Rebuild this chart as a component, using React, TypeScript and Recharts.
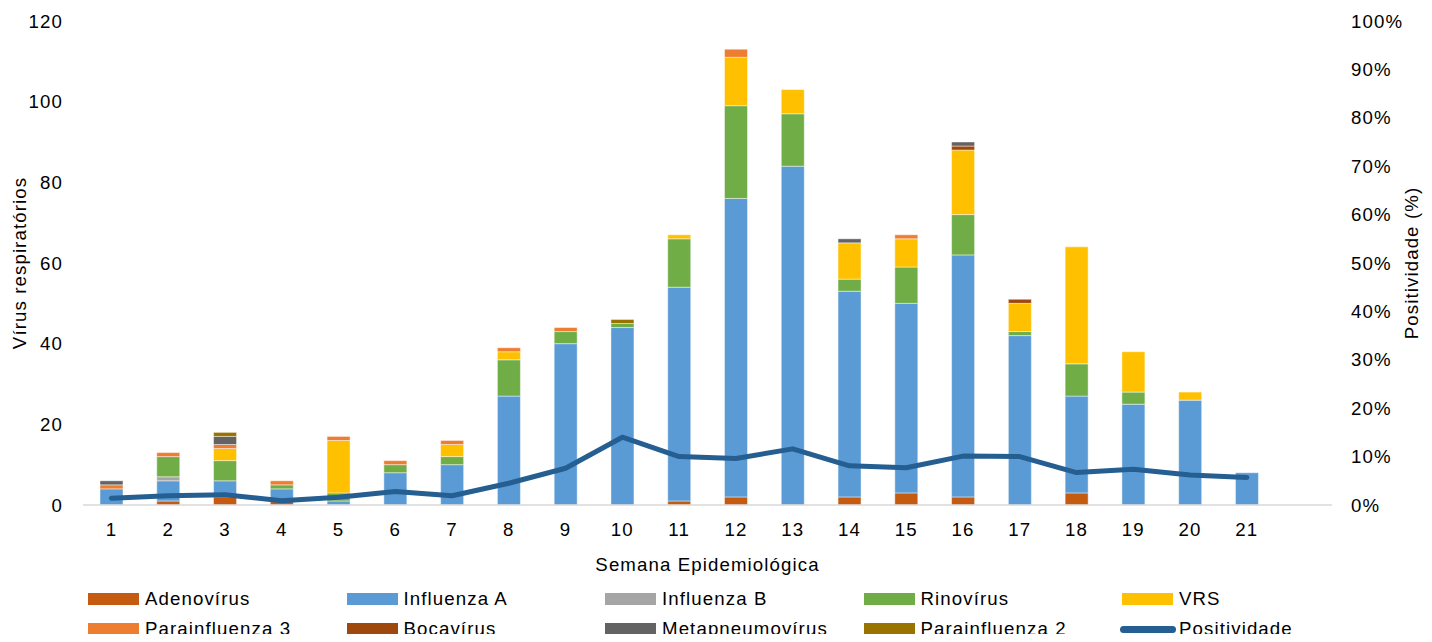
import React from 'react';
import { ComposedChart, Bar, Line, XAxis, YAxis, Legend } from 'recharts';

// semanas epidemiológicas (a última posição fica vazia, como no original)
const semanas = ['1', '2', '3', '4', '5', '6', '7', '8', '9', '10', '11', '12', '13', '14', '15', '16', '17', '18', '19', '20', '21', ''];

const adenovirus = [0, 1, 2, 1, 0, 0, 0, 0, 0, 0, 1, 2, 0, 2, 3, 2, 0, 3, 0, 0, 0];
const influenzaA = [4, 5, 4, 3, 1, 8, 10, 27, 40, 44, 53, 74, 84, 51, 47, 60, 42, 24, 25, 26, 8];
const influenzaB = [0, 1, 0, 0, 0, 0, 0, 0, 0, 0, 0, 0, 0, 0, 0, 0, 0, 0, 0, 0, 0];
const rinovirus = [0, 5, 5, 1, 2, 2, 2, 9, 3, 1, 12, 23, 13, 3, 9, 10, 1, 8, 3, 0, 0];
const vrs = [0, 0, 3, 0, 13, 0, 3, 2, 0, 0, 1, 12, 6, 9, 7, 16, 7, 29, 10, 2, 0];
const parainfluenza3 = [1, 1, 1, 1, 1, 1, 1, 1, 1, 0, 0, 2, 0, 0, 1, 0, 0, 0, 0, 0, 0];
const bocavirus = [0, 0, 0, 0, 0, 0, 0, 0, 0, 0, 0, 0, 0, 0, 0, 1, 1, 0, 0, 0, 0];
const metapneumovirus = [1, 0, 2, 0, 0, 0, 0, 0, 0, 0, 0, 0, 0, 1, 0, 1, 0, 0, 0, 0, 0];
const parainfluenza2 = [0, 0, 1, 0, 0, 0, 0, 0, 0, 1, 0, 0, 0, 0, 0, 0, 0, 0, 0, 0, 0];
const positividade = [1.4, 1.9, 2.1, 0.9, 1.6, 2.8, 1.9, 4.5, 7.6, 14.0, 10.0, 9.6, 11.6, 8.1, 7.7, 10.1, 10.0, 6.7, 7.4, 6.2, 5.7];

const leftTicks = [0, 20, 40, 60, 80, 100, 120];
const rightTicks = [0, 10, 20, 30, 40, 50, 60, 70, 80, 90, 100];

const series = [
  { key: 'adeno', name: 'Adenovírus', color: '#C55A11', values: adenovirus },
  { key: 'fluA', name: 'Influenza A', color: '#5B9BD5', values: influenzaA },
  { key: 'fluB', name: 'Influenza B', color: '#A5A5A5', values: influenzaB },
  { key: 'rino', name: 'Rinovírus', color: '#70AD47', values: rinovirus },
  { key: 'vrs', name: 'VRS', color: '#FFC000', values: vrs },
  { key: 'pi3', name: 'Parainfluenza 3', color: '#ED7D31', values: parainfluenza3 },
  { key: 'boca', name: 'Bocavírus', color: '#9E480E', values: bocavirus },
  { key: 'meta', name: 'Metapneumovírus', color: '#636363', values: metapneumovirus },
  { key: 'pi2', name: 'Parainfluenza 2', color: '#997300', values: parainfluenza2 },
];
const lineColor = '#255E91';

const data = semanas.map((s, i) => {
  const row: Record<string, any> = { semana: s, pos: i < positividade.length ? positividade[i] : null };
  series.forEach((sr) => {
    row[sr.key] = i < sr.values.length ? sr.values[i] : null;
  });
  return row;
});

const FONT = '"Liberation Sans", Arial, sans-serif';
const FS = 18.67;
const LS = 1.1;
const tickStyle = { fill: '#000', fontSize: FS, fontFamily: FONT, letterSpacing: LS };

const LegendBox = () => {
  const items = [...series.map((s) => ({ name: s.name, color: s.color, line: false })), { name: 'Positividade', color: lineColor, line: true }];
  return (
    <div style={{ position: 'relative', width: 1432, height: 57 }}>
      {items.map((it, i) => {
        const col = i % 5;
        const row = Math.floor(i / 5);
        return (
          <div
            key={it.name}
            style={{
              position: 'absolute',
              left: 86 + col * 258.5,
              top: row === 0 ? 2 : 32,
              height: 24,
              lineHeight: '24px',
              display: 'flex',
              alignItems: 'center',
              fontFamily: FONT,
              fontSize: FS,
              letterSpacing: LS,
              color: '#000',
              whiteSpace: 'nowrap',
            }}
          >
            {it.line ? (
              <span style={{ display: 'inline-block', width: 56, height: 7, borderRadius: 4, background: it.color, marginRight: 3 }} />
            ) : (
              <span style={{ display: 'inline-block', width: 51, height: 12, background: it.color, margin: '0 6px 0 2px' }} />
            )}
            {it.name}
          </div>
        );
      })}
    </div>
  );
};

export default function App() {
  return (
    <div style={{ position: 'relative', margin: -8, width: 1432, height: 642, background: '#fff', fontFamily: FONT }}>
      <ComposedChart width={1432} height={642} data={data} margin={{ top: 21, right: 0, left: 0, bottom: 0 }} barSize={23}>
        <XAxis
          dataKey="semana"
          height={137}
          tickSize={0}
          tickMargin={18}
          tick={tickStyle}
          axisLine={{ stroke: '#D9D9D9', strokeWidth: 1.5 }}
          tickLine={false}
          interval={0}
          label={{
            content: (p: any) => {
              const vb = p.viewBox || {};
              return (
                <text x={vb.x + vb.width / 2} y={564} textAnchor="middle" dominantBaseline="central" style={tickStyle}>
                  Semana Epidemiológica
                </text>
              );
            },
          }}
        />
        <YAxis
          yAxisId="left"
          width={83}
          domain={[0, 120]}
          ticks={leftTicks}
          tickSize={0}
          tickMargin={20}
          tick={tickStyle}
          axisLine={false}
          tickLine={false}
          label={{
            content: (p: any) => {
              const vb = p.viewBox || {};
              const cx = vb.x + 19;
              const cy = vb.y + vb.height / 2;
              return (
                <text x={cx} y={cy} transform={`rotate(-90, ${cx}, ${cy})`} textAnchor="middle" dominantBaseline="central" style={tickStyle}>
                  Vírus respiratórios
                </text>
              );
            },
          }}
        />
        <YAxis
          yAxisId="right"
          orientation="right"
          width={100}
          domain={[0, 100]}
          ticks={rightTicks}
          tickFormatter={(v: number) => `${v}%`}
          tickSize={0}
          tickMargin={19}
          tick={tickStyle}
          axisLine={false}
          tickLine={false}
          label={{
            content: (p: any) => {
              const vb = p.viewBox || {};
              const cx = vb.x + 79;
              const cy = vb.y + vb.height / 2;
              return (
                <text x={cx} y={cy} transform={`rotate(-90, ${cx}, ${cy})`} textAnchor="middle" dominantBaseline="central" style={tickStyle}>
                  Positividade (%)
                </text>
              );
            },
          }}
        />
        <Legend
          layout="horizontal"
          verticalAlign="middle"
          align="center"
          wrapperStyle={{ top: 585, left: 0, width: 1432, height: 57 }}
          content={() => <LegendBox />}
        />
        {series.map((s) => (
          <Bar
            key={s.key}
            yAxisId="left"
            dataKey={s.key}
            name={s.name}
            stackId="virus"
            fill={s.color}
            stroke="#ffffff"
            strokeOpacity={0.45}
            strokeWidth={1}
            isAnimationActive={false}
          />
        ))}
        <Line
          yAxisId="right"
          dataKey="pos"
          name="Positividade"
          type="linear"
          stroke={lineColor}
          strokeWidth={5}
          strokeLinecap="round"
          strokeLinejoin="round"
          dot={false}
          activeDot={false}
          isAnimationActive={false}
        />
      </ComposedChart>
    </div>
  );
}
